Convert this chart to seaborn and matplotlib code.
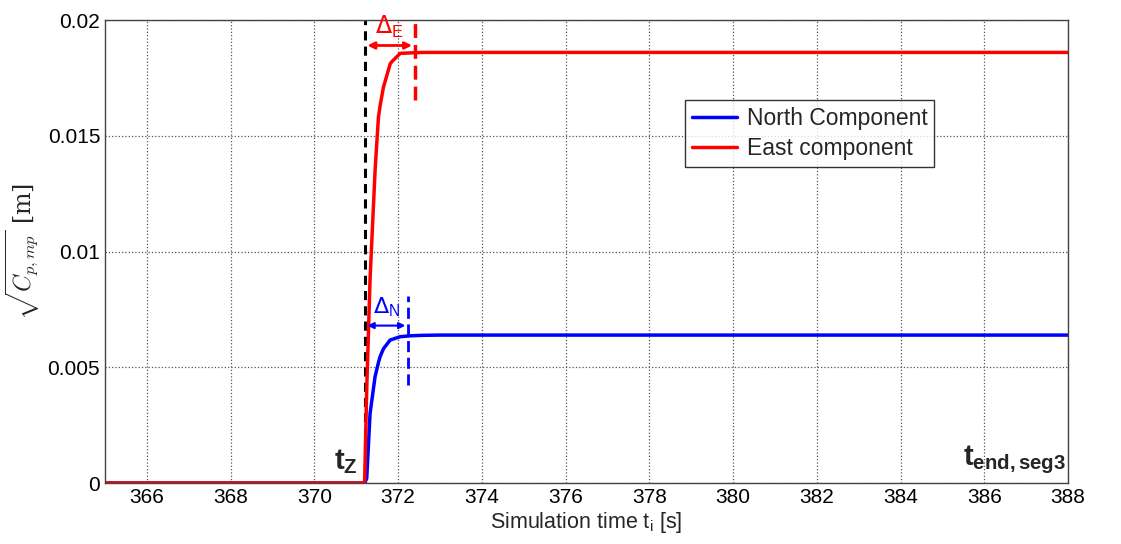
import numpy as np
import pandas as pd
import matplotlib
matplotlib.use("Agg")
import matplotlib.pyplot as plt
import seaborn as sns

# time samples [s] and components [m]
time_s = [365.0, 371.2, 371.25, 371.33, 371.45, 371.53, 371.57, 371.65, 371.81,
          371.85, 372.05, 372.3, 372.6, 373.0, 375.0, 380.0, 388.0]
north_m = [0.0, 0.0, 0.0002, 0.0030, 0.0046, 0.0052, 0.00546, 0.0058, 0.00618,
           0.0062, 0.00632, 0.00636, 0.00638, 0.00639, 0.00639, 0.00639, 0.00639]
east_m = [0.0, 0.0, 0.0040, 0.0088, 0.0135, 0.0158, 0.0163, 0.0171, 0.0181,
          0.0182, 0.01856, 0.01858, 0.0186, 0.0186, 0.0186, 0.0186, 0.0186]

t_z = 371.2
t_east = 372.4
t_north = 372.24

df = pd.DataFrame({
    "t": time_s * 2,
    "value": north_m + east_m,
    "series": ["North Component"] * len(time_s) + ["East component"] * len(time_s),
})

sns.set_style("white")
plt.rcParams["font.family"] = ["Liberation Sans", "DejaVu Sans"]
plt.rcParams["mathtext.fontset"] = "custom"
plt.rcParams["mathtext.rm"] = "Liberation Sans"
plt.rcParams["mathtext.it"] = "Liberation Sans"
plt.rcParams["mathtext.bf"] = "Liberation Sans:bold"

fig = plt.figure(figsize=(11.21, 5.44), dpi=100)
ax = fig.add_axes([0.0937, 0.1121, 0.859, 0.8511])

sns.lineplot(data=df, x="t", y="value", hue="series",
             palette={"North Component": "#0000ff", "East component": "#ff0000"},
             hue_order=["North Component", "East component"],
             linewidth=2.5, ax=ax)

# t_Z marker
ax.plot([t_z, t_z], [0, 0.02], color="black", ls=(0, (3, 2)), lw=2.2, zorder=1)
# settling markers
ax.plot([t_east, t_east], [0.01655, 0.02], color="red", ls=(0, (4, 2)), lw=2.5)
ax.plot([t_north, t_north], [0.00423, 0.0081], color="blue", ls=(0, (4, 2)), lw=2)

ax.annotate("", xy=(t_z, 0.0189), xytext=(t_east, 0.0189),
            arrowprops=dict(arrowstyle="<|-|>", color="red", lw=2, mutation_scale=10))
ax.annotate("", xy=(t_z, 0.0068), xytext=(t_north, 0.0068),
            arrowprops=dict(arrowstyle="<|-|>", color="blue", lw=1.5, mutation_scale=9))
ax.text(371.45, 0.01915, r"$\Delta_\mathregular{E}$", color="red", fontsize=17,
        ha="left", va="bottom", math_fontfamily="dejavusans", clip_on=False)
ax.text(371.4, 0.0071, r"$\Delta_\mathregular{N}$", color="blue", fontsize=16,
        ha="left", va="bottom", math_fontfamily="dejavusans")

ax.text(371.05, 0.0003, r"$\mathbf{t_Z}$", fontsize=21, ha="right", va="bottom")
ax.text(387.95, 0.0003, r"$\mathbf{t_{end,seg3}}$", fontsize=21, ha="right", va="bottom")

ax.set_xlim(365, 388)
ax.set_ylim(0, 0.02)
ax.set_xticks(np.arange(366, 389, 2))
ax.set_yticks([0, 0.005, 0.01, 0.015, 0.02])
ax.set_yticklabels(["0", "0.005", "0.01", "0.015", "0.02"])
ax.tick_params(labelsize=15, direction="in", length=5, colors="black")
ax.grid(True, ls=":", color="#555555", lw=0.9)
for s in ax.spines.values():
    s.set_color("#444444")
    s.set_linewidth(1)

ax.set_xlabel("Simulation time t$_\\mathregular{i}$ [s]", fontsize=15.5, labelpad=2)
ax.set_ylabel(r"$\sqrt{C_{p,mp}}$ [m]", fontsize=17, family="serif",
              math_fontfamily="cm")

leg = ax.legend(loc="lower left", bbox_to_anchor=(0.602, 0.683), fontsize=16.5,
                frameon=True, fancybox=False, edgecolor="black", handlelength=2.0,
                handletextpad=0.4, borderpad=0.3, labelspacing=0.3, borderaxespad=0)
leg.get_frame().set_linewidth(1)

fig.savefig("out.png", dpi=100)
